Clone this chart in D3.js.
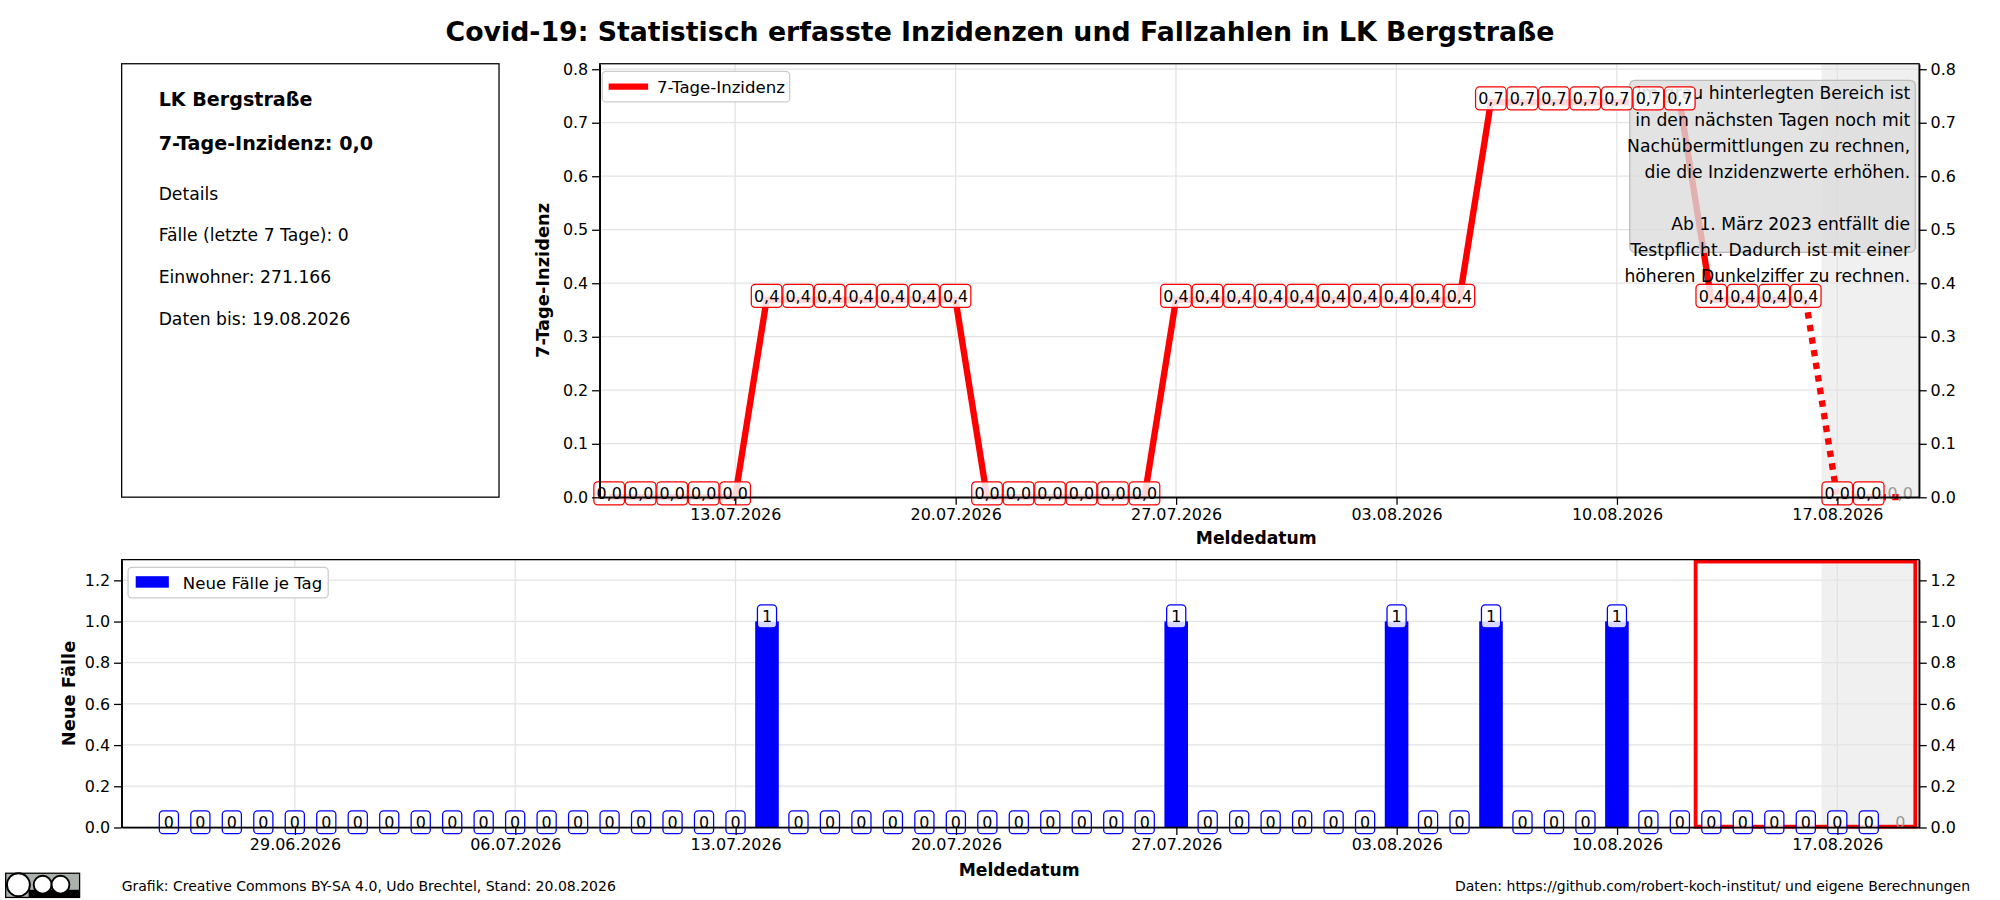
<!DOCTYPE html>
<html><head><meta charset="utf-8">
<script src="https://cdn.jsdelivr.net/npm/d3@7"></script>
<style>body{margin:0;background:#fff}text{font-family:"DejaVu Sans",sans-serif}</style>
</head><body><svg id="c" width="2000" height="900" viewBox="0 0 1568 706"></svg>
<script>
const incDates = ["09.07","10.07","11.07","12.07","13.07","14.07","15.07","16.07","17.07","18.07","19.07","20.07","21.07","22.07","23.07","24.07","25.07","26.07","27.07","28.07","29.07","30.07","31.07","01.08","02.08","03.08","04.08","05.08","06.08","07.08","08.08","09.08","10.08","11.08","12.08","13.08","14.08","15.08","16.08","17.08","18.08","19.08"];
const incValues = [0,0,0,0,0,0.369,0.369,0.369,0.369,0.369,0.369,0.369,0,0,0,0,0,0,0.369,0.369,0.369,0.369,0.369,0.369,0.369,0.369,0.369,0.369,0.738,0.738,0.738,0.738,0.738,0.738,0.738,0.369,0.369,0.369,0.369,0,0,0];
const caseStart = "25.06";
const caseValues = [0,0,0,0,0,0,0, 0,0,0,0,0,0,0, 0,0,0,0,0,1,0, 0,0,0,0,0,0,0, 0,0,0,0,1,0,0, 0,0,0,0,1,0,0, 1,0,0,0,1,0,0, 0,0,0,0,0,0,0];
const tickDatesTop = ["13.07","20.07","27.07","03.08","10.08","17.08"];
const tickDatesBottom = ["29.06","06.07","13.07","20.07","27.07","03.08","10.08","17.08"];
const noteLines = ["Im grau hinterlegten Bereich ist","in den nächsten Tagen noch mit","Nachübermittlungen zu rechnen,","die die Inzidenzwerte erhöhen.","","Ab 1. März 2023 entfällt die","Testpflicht. Dadurch ist mit einer","höheren Dunkelziffer zu rechnen."];

const pd = s => { const [d,m]=s.split(".").map(Number); return new Date(2026,m-1,d); };
const addDays=(d,n)=>new Date(d.getFullYear(),d.getMonth(),d.getDate()+n);
const fmt = d3.timeFormat("%d.%m.%Y");
const svg = d3.select("#c");
const DAY=864e5;
const x0 = pd("27.07");
const xTop = d3.scaleTime().domain([new Date(+x0 - 18.3*DAY), new Date(+x0+23.6*DAY)]).range([470,1505]);
const xBot = d3.scaleTime().domain([new Date(+x0 - 33.5*DAY), new Date(+x0+23.6*DAY)]).range([95,1505]);

svg.append("text").attr("x",784).attr("y",32).attr("text-anchor","middle").attr("font-size",21).attr("font-weight","bold").text("Covid-19: Statistisch erfasste Inzidenzen und Fallzahlen in LK Bergstraße");

svg.append("rect").attr("x",95).attr("y",50).attr("width",296).attr("height",340).attr("fill","none").attr("stroke","#000");
[["LK Bergstraße",83,15,"bold"],["7-Tage-Inzidenz: 0,0",118,15,"bold"],["Details",157,13.5,"normal"],["Fälle (letzte 7 Tage): 0",189,13.5,"normal"],["Einwohner: 271.166",222,13.5,"normal"],["Daten bis: 19.08.2026",255,13.5,"normal"]].forEach(([t,y,s,w])=>svg.append("text").attr("x",124).attr("y",y).attr("font-size",s).attr("font-weight",w).text(t));

// ---------- top chart
const T={l:470,r:1505,t:50,b:390};
const yTop=d3.scaleLinear().domain([0,0.81]).range([T.b,T.t]);
const gT=svg.append("g");
const shT=xTop(new Date(+pd("17.08")-0.5*DAY));
gT.append("rect").attr("x",shT).attr("y",T.t).attr("width",T.r-shT).attr("height",T.b-T.t).attr("fill","#f0f0f0");
gT.append("g").selectAll("line").data(tickDatesTop.map(pd)).join("line").attr("x1",d=>xTop(d)).attr("x2",d=>xTop(d)).attr("y1",T.t).attr("y2",T.b).attr("stroke","#e3e3e3");
const yt=d3.range(0,0.81,0.1);
gT.append("g").selectAll("line").data(yt).join("line").attr("x1",T.l).attr("x2",T.r).attr("y1",d=>yTop(d)).attr("y2",d=>yTop(d)).attr("stroke","#e3e3e3");
const inc=incDates.map((d,i)=>({d:pd(d),v:incValues[i]}));
const line=d3.line().x(d=>xTop(d.d)).y(d=>yTop(d.v));
gT.append("path").attr("d",line(inc.slice(0,39))).attr("fill","none").attr("stroke","red").attr("stroke-width",5);
gT.append("path").attr("d",line(inc.slice(38))).attr("fill","none").attr("stroke","red").attr("stroke-width",5).attr("stroke-dasharray","5,5");
gT.append("rect").attr("x",1278).attr("y",63).attr("width",224).attr("height",135).attr("rx",4).attr("fill","#dcdcdc").attr("fill-opacity",0.8).attr("stroke","#bbb");
noteLines.forEach((t,i)=>gT.append("text").attr("x",1498).attr("y",78+i*20.5).attr("text-anchor","end").attr("font-size",13.5).text(t));
inc.forEach((d,i)=>{
  const last=i===inc.length-1;
  const g=gT.append("g").attr("transform",`translate(${xTop(d.d)},${yTop(d.v)-3})`);
  if(!last) g.append("rect").attr("x",-12).attr("y",-9).attr("width",24).attr("height",18).attr("rx",3).attr("fill","#fff").attr("fill-opacity",0.85).attr("stroke","red");
  g.append("text").attr("y",4.5).attr("text-anchor","middle").attr("font-size",12.5).attr("fill",last?"#999":"#000").text(d3.format(".1f")(d.v).replace(".",","));
});
gT.append("rect").attr("x",T.l).attr("y",T.t).attr("width",T.r-T.l).attr("height",T.b-T.t).attr("fill","none").attr("stroke","#000");
gT.append("g").attr("transform",`translate(0,${T.b})`).call(d3.axisBottom(xTop).tickValues(tickDatesTop.map(pd)).tickFormat(fmt).tickSizeOuter(0));
gT.append("g").attr("transform",`translate(${T.l},0)`).call(d3.axisLeft(yTop).tickValues(yt).tickFormat(d3.format(".1f")).tickSizeOuter(0));
gT.append("g").attr("transform",`translate(${T.r},0)`).call(d3.axisRight(yTop).tickValues(yt).tickFormat(d3.format(".1f")).tickSizeOuter(0));
svg.append("text").attr("transform",`translate(430,220) rotate(-90)`).attr("text-anchor","middle").attr("font-size",14).attr("font-weight","bold").text("7-Tage-Inzidenz");
svg.append("text").attr("x",985).attr("y",427).attr("text-anchor","middle").attr("font-size",13.5).attr("font-weight","bold").text("Meldedatum");
gT.append("rect").attr("x",472).attr("y",56).attr("width",147).attr("height",24).attr("rx",3).attr("fill","#fff").attr("stroke","#ccc");
gT.append("line").attr("x1",477).attr("x2",508).attr("y1",68).attr("y2",68).attr("stroke","red").attr("stroke-width",5);
gT.append("text").attr("x",515).attr("y",73).attr("font-size",13).text("7-Tage-Inzidenz");

// ---------- bottom chart
const B={l:95,r:1505,t:439,b:649};
const yBot=d3.scaleLinear().domain([0,1.3]).range([B.b,B.t]);
const gB=svg.append("g");
const shadeX=xBot(new Date(+pd("17.08")-0.5*DAY));
gB.append("rect").attr("x",shadeX).attr("y",B.t).attr("width",B.r-shadeX).attr("height",B.b-B.t).attr("fill","#f0f0f0");
gB.append("g").selectAll("line").data(tickDatesBottom.map(pd)).join("line").attr("x1",d=>xBot(d)).attr("x2",d=>xBot(d)).attr("y1",B.t).attr("y2",B.b).attr("stroke","#e3e3e3");
const yb=d3.range(0,1.21,0.2);
gB.append("g").selectAll("line").data(yb).join("line").attr("x1",B.l).attr("x2",B.r).attr("y1",d=>yBot(d)).attr("y2",d=>yBot(d)).attr("stroke","#e3e3e3");
const cases=caseValues.map((v,i)=>({d:addDays(pd(caseStart),i),v}));
const bw=xBot(new Date(+x0+0.75*DAY))-xBot(x0);
gB.selectAll(".bar").data(cases).join("rect").attr("x",d=>xBot(d.d)-bw/2).attr("y",d=>yBot(d.v)).attr("width",bw).attr("height",d=>B.b-yBot(d.v)).attr("fill","blue");
const rx1=xBot(new Date(+pd("13.08")-0.5*DAY));
gB.append("rect").attr("x",rx1).attr("y",B.t+1.5).attr("width",B.r-3-rx1).attr("height",B.b-B.t-2).attr("fill","none").attr("stroke","red").attr("stroke-width",3);
cases.forEach((d,i)=>{
  const last=i===cases.length-1;
  const g=gB.append("g").attr("transform",`translate(${xBot(d.d)},${yBot(d.v)-4})`);
  if(!last) g.append("rect").attr("x",-7.5).attr("y",-9).attr("width",15).attr("height",18).attr("rx",3).attr("fill","#fff").attr("fill-opacity",0.85).attr("stroke","blue");
  g.append("text").attr("y",4.5).attr("text-anchor","middle").attr("font-size",12.5).attr("fill",last?"#999":"#000").text(d.v);
});
gB.append("rect").attr("x",B.l).attr("y",B.t).attr("width",B.r-B.l).attr("height",B.b-B.t).attr("fill","none").attr("stroke","#000");
gB.append("g").attr("transform",`translate(0,${B.b})`).call(d3.axisBottom(xBot).tickValues(tickDatesBottom.map(pd)).tickFormat(fmt).tickSizeOuter(0));
gB.append("g").attr("transform",`translate(${B.l},0)`).call(d3.axisLeft(yBot).tickValues(yb).tickFormat(d3.format(".1f")).tickSizeOuter(0));
gB.append("g").attr("transform",`translate(${B.r},0)`).call(d3.axisRight(yBot).tickValues(yb).tickFormat(d3.format(".1f")).tickSizeOuter(0));
svg.append("text").attr("transform",`translate(58,544) rotate(-90)`).attr("text-anchor","middle").attr("font-size",14).attr("font-weight","bold").text("Neue Fälle");
svg.append("text").attr("x",799).attr("y",687).attr("text-anchor","middle").attr("font-size",13.5).attr("font-weight","bold").text("Meldedatum");
gB.append("rect").attr("x",100).attr("y",445).attr("width",157).attr("height",24).attr("rx",3).attr("fill","#fff").attr("stroke","#ccc");
gB.append("rect").attr("x",106).attr("y",452).attr("width",26).attr("height",9).attr("fill","blue");
gB.append("text").attr("x",143).attr("y",462).attr("font-size",13).text("Neue Fälle je Tag");

svg.selectAll(".tick text").attr("font-size",12.5).attr("font-family","DejaVu Sans").attr("fill","#000");
svg.selectAll(".domain").attr("stroke","#000");

const cc=svg.append("g").attr("transform","translate(4,685)");
cc.append("rect").attr("width",58).attr("height",19).attr("fill","#aab2ab").attr("stroke","#000");
cc.append("rect").attr("x",18).attr("y",13).attr("width",40).attr("height",6).attr("fill","#000");
[[10,9],[29,7],[43,7]].forEach(([cx,r])=>cc.append("circle").attr("cx",cx).attr("cy",9).attr("r",r).attr("fill","#fff").attr("stroke","#000").attr("stroke-width",1.5));
svg.append("text").attr("x",95).attr("y",699).attr("font-size",11).text("Grafik: Creative Commons BY-SA 4.0, Udo Brechtel, Stand: 20.08.2026");
svg.append("text").attr("x",1545).attr("y",699).attr("text-anchor","end").attr("font-size",11).text("Daten: https://github.com/robert-koch-institut/ und eigene Berechnungen");
</script></body></html>
